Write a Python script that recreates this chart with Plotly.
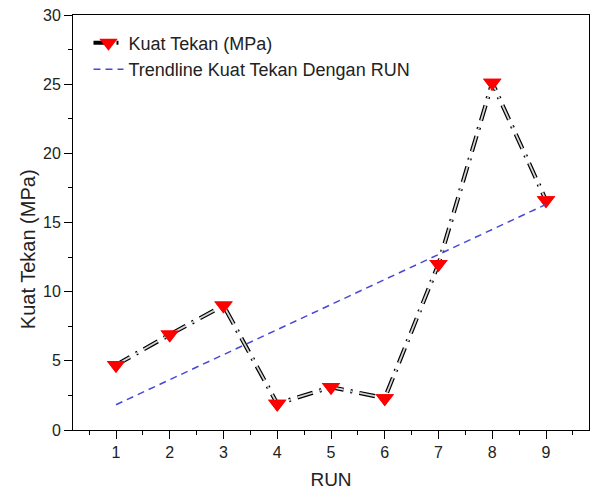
import numpy as np
import plotly.graph_objects as go

runs = [1, 2, 3, 4, 5, 6, 7, 8, 9]
kuat_tekan = [4.7, 6.9, 9.0, 1.9, 3.1, 2.3, 12.0, 25.1, 16.6]
x_ticks = [1, 2, 3, 4, 5, 6, 7, 8, 9]
y_ticks = [0, 5, 10, 15, 20, 25, 30]

slope, intercept = np.polyfit(runs, kuat_tekan, 1)
trend = [slope * r + intercept for r in runs]

dash_pat = "16px,7px,2px,7px"
font = "Liberation Sans, Arial, sans-serif"
txt = "#222222"

fig = go.Figure()
fig.add_trace(go.Scatter(
    x=runs, y=kuat_tekan, mode="lines+markers", name="Kuat Tekan (MPa)",
    line=dict(color="black", width=4.2, dash=dash_pat),
    marker=dict(symbol="triangle-down", size=16, color="#ff0000"),
))
fig.add_trace(go.Scatter(
    x=runs, y=kuat_tekan, mode="lines", showlegend=False, hoverinfo="skip",
    line=dict(color="#d4d4d4", width=1.8, dash=dash_pat),
))
fig.add_trace(go.Scatter(
    x=runs, y=kuat_tekan, mode="markers", showlegend=False, hoverinfo="skip",
    marker=dict(symbol="triangle-down", size=16, color="#ff0000"),
))
fig.add_trace(go.Scatter(
    x=runs, y=trend, mode="lines", name="Trendline Kuat Tekan Dengan RUN",
    line=dict(color="#4848d8", width=1.5, dash="7px,5px"),
))

axis_common = dict(
    showline=True, linecolor="black", linewidth=1, mirror=True,
    ticks="outside", ticklen=8, tickcolor="black", tickwidth=1,
    showgrid=False, zeroline=False, ticklabeloverflow="allow",
    tickfont=dict(size=16, color=txt, family=font),
)
fig.update_xaxes(
    range=[0.2, 9.8], tickmode="array", tickvals=x_ticks,
    minor=dict(dtick=0.5, tick0=0.5, ticks="outside", ticklen=4, tickcolor="black"),
    title=dict(text="RUN", font=dict(size=19, color=txt, family=font), standoff=12),
    **axis_common,
)
fig.update_yaxes(
    range=[0, 30], tickmode="array", tickvals=y_ticks,
    minor=dict(dtick=2.5, tick0=0, ticks="outside", ticklen=4, tickcolor="black"),
    **axis_common,
)
fig.add_annotation(
    text="Kuat Tekan (MPa)", textangle=-90, showarrow=False,
    xref="paper", yref="paper", x=-0.087, y=0.436,
    xanchor="center", yanchor="middle",
    font=dict(size=20, color=txt, family=font),
)
fig.update_layout(
    width=590, height=494,
    margin=dict(l=73, r=1, t=15, b=64),
    paper_bgcolor="white", plot_bgcolor="white",
    font=dict(family=font, color=txt),
    legend=dict(x=0.03, y=0.977, xanchor="left", yanchor="top",
                bgcolor="rgba(0,0,0,0)", font=dict(size=18, color=txt, family=font),
                tracegroupgap=0),
    showlegend=True,
)
fig.write_html(
    "out.html",
    config={"displayModeBar": False},
    post_script="document.body.style.margin='0';document.body.style.overflow='hidden';",
)
